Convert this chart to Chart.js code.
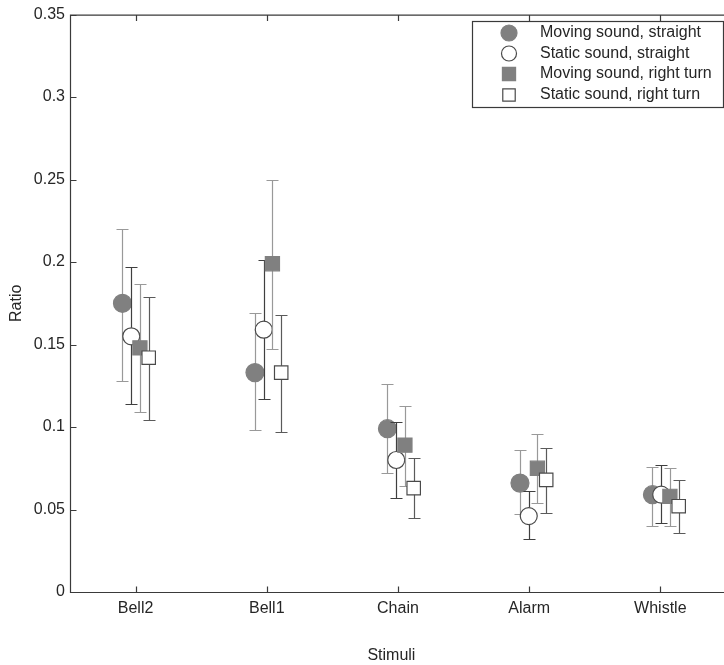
<!DOCTYPE html>
<html>
<head>
<meta charset="utf-8">
<script src="https://cdn.jsdelivr.net/npm/chart.js@4"></script>
<style>
  html, body { margin: 0; padding: 0; background: #fff; }
</style>
</head>
<body>
<canvas id="myChart" width="724" height="665"></canvas>
<script>
// data
const categories = ['Bell2', 'Bell1', 'Chain', 'Alarm', 'Whistle'];
const yTicks = [0, 0.05, 0.1, 0.15, 0.2, 0.25, 0.3, 0.35];

const seriesNames = [
  'Moving sound, straight',
  'Static sound, straight',
  'Moving sound, right turn',
  'Static sound, right turn'
];

const movStraight   = [0.175, 0.133, 0.099, 0.066, 0.059];
const movStraightLo = [0.128, 0.098, 0.072, 0.047, 0.040];
const movStraightHi = [0.220, 0.169, 0.126, 0.086, 0.076];

const statStraight   = [0.155, 0.159, 0.080, 0.046, 0.059];
const statStraightLo = [0.114, 0.117, 0.057, 0.032, 0.042];
const statStraightHi = [0.197, 0.201, 0.103, 0.061, 0.077];

const movTurn   = [0.148, 0.199, 0.089, 0.075, 0.058];
const movTurnLo = [0.109, 0.147, 0.064, 0.054, 0.040];
const movTurnHi = [0.187, 0.250, 0.113, 0.096, 0.075];

const statTurn   = [0.142, 0.133, 0.063, 0.068, 0.052];
const statTurnLo = [0.104, 0.097, 0.045, 0.048, 0.036];
const statTurnHi = [0.179, 0.168, 0.081, 0.087, 0.068];

// horizontal placement of the four markers inside a group
const offsets = [-0.1, -0.033, 0.033, 0.1];
const groupDrift = 0.01; // groups sit a little right of the ticks in the original

const FONT = '"Liberation Sans", Arial, Helvetica, sans-serif';
const TEXT = '#262626';
const AXIS = '#3a3a3a';

function points(vals, lo, hi, s) {
  return vals.map((v, i) => ({
    x: i + 1 + offsets[s] + groupDrift * i,
    y: v, lo: lo[i], hi: hi[i]
  }));
}

const styles = [
  { pointStyle: 'circle', radius: 9,   fill: '#808080', edge: '#808080', bar: '#999999' },
  { pointStyle: 'circle', radius: 8.5, fill: '#ffffff', edge: '#4a4a4a', bar: '#3f3f3f' },
  { pointStyle: 'rect',   radius: 10,  fill: '#808080', edge: '#808080', bar: '#999999' },
  { pointStyle: 'rect',   radius: 9.5, fill: '#ffffff', edge: '#4a4a4a', bar: '#5a5a5a' }
];

const allSeries = [
  points(movStraight, movStraightLo, movStraightHi, 0),
  points(statStraight, statStraightLo, statStraightHi, 1),
  points(movTurn, movTurnLo, movTurnHi, 2),
  points(statTurn, statTurnLo, statTurnHi, 3)
];

const data = {
  datasets: allSeries.map((pts, s) => ({
    label: seriesNames[s],
    data: pts,
    order: 4 - s,
    pointStyle: styles[s].pointStyle,
    pointRadius: styles[s].radius,
    pointHoverRadius: styles[s].radius,
    backgroundColor: styles[s].fill,
    borderColor: styles[s].edge,
    pointBorderWidth: 1.2,
    barColor: styles[s].bar,
    showLine: false
  }))
};

// error bars, drawn just before each series' markers
const errorBars = {
  id: 'errorBars',
  beforeDatasetDraw(chart, args) {
    const ds = chart.data.datasets[args.index];
    const xs = chart.scales.x, ys = chart.scales.y;
    const ctx = chart.ctx;
    ctx.save();
    ctx.strokeStyle = ds.barColor;
    ctx.lineWidth = 1.2;
    ds.data.forEach(p => {
      const px = Math.round(xs.getPixelForValue(p.x)) + 0.5;
      const t = Math.round(ys.getPixelForValue(p.hi)) + 0.5;
      const b = Math.round(ys.getPixelForValue(p.lo)) + 0.5;
      ctx.beginPath();
      ctx.moveTo(px, t); ctx.lineTo(px, b);
      ctx.moveTo(px - 6, t); ctx.lineTo(px + 6, t);
      ctx.moveTo(px - 6, b); ctx.lineTo(px + 6, b);
      ctx.stroke();
    });
    ctx.restore();
  }
};

// matlab style box with inward ticks
const axesBox = {
  id: 'axesBox',
  afterDatasetsDraw(chart) {
    const {ctx, chartArea: a} = chart;
    const xs = chart.scales.x, ys = chart.scales.y;
    const L = a.left + 0.5, T = a.top + 0.5, B = a.bottom + 0.5, R = chart.width;
    ctx.save();
    ctx.strokeStyle = AXIS;
    ctx.lineWidth = 1.2;
    ctx.beginPath();
    ctx.moveTo(R, T); ctx.lineTo(L, T); ctx.lineTo(L, B); ctx.lineTo(R, B);
    yTicks.forEach(v => {
      const py = Math.round(ys.getPixelForValue(v)) + 0.5;
      ctx.moveTo(L, py); ctx.lineTo(L + 6, py);
    });
    categories.forEach((c, i) => {
      const px = Math.round(xs.getPixelForValue(i + 1)) + 0.5;
      ctx.moveTo(px, B); ctx.lineTo(px, B - 6);
      ctx.moveTo(px, T); ctx.lineTo(px, T + 6);
    });
    ctx.stroke();
    ctx.restore();
  }
};

// legend box in the top right corner
const boxLegend = {
  id: 'boxLegend',
  afterDraw(chart) {
    const ctx = chart.ctx;
    const bx = 472.5, by = 21.5, bw = 251, bh = 86;
    ctx.save();
    ctx.fillStyle = '#fff';
    ctx.fillRect(bx, by, bw, bh);
    ctx.strokeStyle = AXIS;
    ctx.lineWidth = 1.2;
    ctx.strokeRect(bx, by, bw, bh);
    const rowY = [33, 53.5, 74, 95];
    const mx = 509;
    seriesNames.forEach((name, s) => {
      const st = styles[s];
      const y = rowY[s];
      ctx.fillStyle = st.fill;
      ctx.strokeStyle = st.edge;
      ctx.lineWidth = 1.2;
      ctx.beginPath();
      if (st.pointStyle === 'circle') {
        ctx.arc(mx, y, st.radius - 1, 0, Math.PI * 2);
      } else {
        const h = st.radius * Math.SQRT1_2 - 0.5;
        ctx.rect(mx - h, y - h, 2 * h, 2 * h);
      }
      ctx.fill();
      ctx.stroke();
      ctx.fillStyle = TEXT;
      ctx.font = '16px ' + FONT;
      ctx.textBaseline = 'middle';
      ctx.textAlign = 'left';
      ctx.fillText(name, 540, y);
    });
    ctx.restore();
  }
};

const config = {
  type: 'scatter',
  data: data,
  options: {
    responsive: false,
    animation: false,
    events: [],
    layout: { padding: { top: 12, right: 0, left: 0, bottom: 0 } },
    plugins: {
      legend: { display: false },
      tooltip: { enabled: false }
    },
    scales: {
      x: {
        type: 'linear',
        min: 0.5,
        max: 5.4, // the axis box runs past the right edge of the figure
        afterBuildTicks: s => { s.ticks = categories.map((c, i) => ({ value: i + 1 })); },
        afterFit: s => { s.height = 73; },
        grid: { display: false, drawTicks: false },
        border: { display: false },
        ticks: {
          padding: 7,
          color: TEXT,
          font: { family: FONT, size: 16 },
          maxRotation: 0,
          callback: v => categories[Math.round(v) - 1]
        },
        title: {
          display: true,
          text: 'Stimuli',
          color: TEXT,
          font: { family: FONT, size: 16 },
          padding: { top: 2, bottom: 0 }
        }
      },
      y: {
        min: 0,
        max: 0.35,
        afterBuildTicks: s => { s.ticks = yTicks.map(v => ({ value: v })); },
        afterFit: s => { s.width = 70; },
        grid: { display: false, drawTicks: false },
        border: { display: false },
        ticks: {
          padding: 5,
          color: TEXT,
          font: { family: FONT, size: 16 },
          callback: v => String(Math.round(v * 100) / 100)
        },
        title: {
          display: true,
          text: 'Ratio',
          color: TEXT,
          font: { family: FONT, size: 16 },
          padding: { top: 7, bottom: 0 }
        }
      }
    }
  },
  plugins: [errorBars, axesBox, boxLegend]
};

var ctx = document.getElementById('myChart').getContext('2d');
var myChart = new Chart(ctx, config);
</script>
</body>
</html>
